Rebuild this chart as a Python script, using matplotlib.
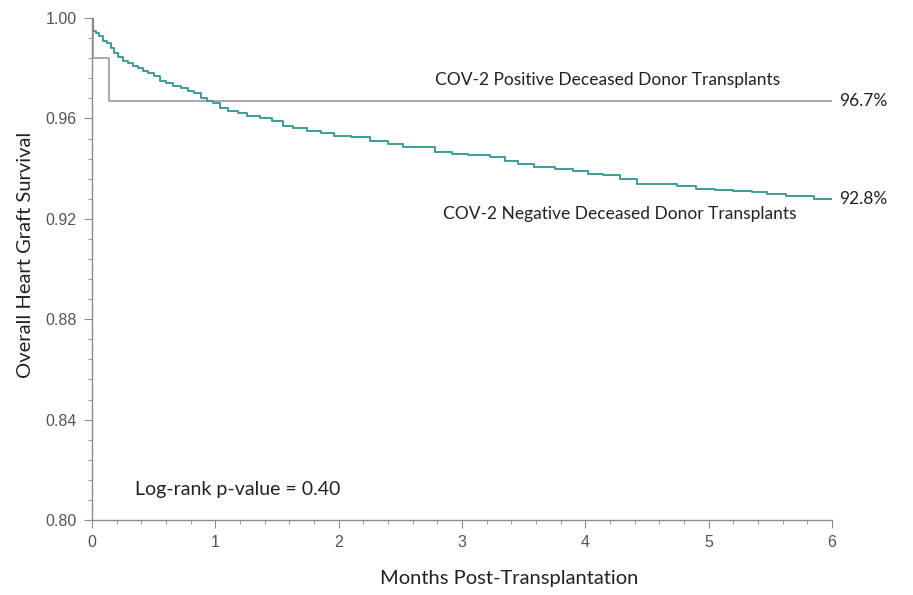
import matplotlib
matplotlib.use("Agg")
import matplotlib.pyplot as plt
from matplotlib.ticker import MultipleLocator, FormatStrFormatter

# COV-2 positive donors (Kaplan-Meier steps)
pos_times = [0.0, 0.005, 0.14, 6.0]
pos_surv = [1.0, 0.984, 0.967, 0.967]

# COV-2 negative donors (Kaplan-Meier steps)
neg_times = [0.0, 0.005, 0.03, 0.06, 0.09, 0.12, 0.15, 0.18, 0.21, 0.25,
             0.29, 0.33, 0.37, 0.41, 0.45, 0.50, 0.55, 0.60, 0.66, 0.72,
             0.78, 0.83, 0.88, 0.93, 0.98, 1.04, 1.10, 1.18, 1.26, 1.36,
             1.46, 1.55, 1.63, 1.74, 1.86, 1.96, 2.10, 2.25, 2.40, 2.52,
             2.78, 2.92, 3.05, 3.23, 3.35, 3.45, 3.58, 3.75, 3.90, 4.02,
             4.14, 4.28, 4.42, 4.74, 4.90, 5.05, 5.20, 5.35, 5.47, 5.63,
             5.85, 6.0]
neg_surv = [1.000, 0.995, 0.994, 0.993, 0.991, 0.990, 0.988, 0.986, 0.9845, 0.983,
            0.982, 0.981, 0.980, 0.979, 0.978, 0.977, 0.975, 0.974, 0.973, 0.972,
            0.971, 0.970, 0.968, 0.967, 0.966, 0.964, 0.963, 0.962, 0.961, 0.960,
            0.959, 0.957, 0.956, 0.955, 0.954, 0.953, 0.9525, 0.951, 0.950, 0.9486,
            0.9466, 0.946, 0.9455, 0.9446, 0.943, 0.942, 0.9406, 0.940, 0.939, 0.938,
            0.9375, 0.936, 0.934, 0.933, 0.932, 0.9315, 0.931, 0.9305, 0.930, 0.929,
            0.928, 0.928]

x_ticks = [0, 1, 2, 3, 4, 5, 6]
y_ticks = [0.80, 0.84, 0.88, 0.92, 0.96, 1.00]

label_font = ["Lato", "DejaVu Sans"]
tick_font = ["Liberation Sans Narrow", "Liberation Sans", "DejaVu Sans"]
axis_gray = "#8c8c8c"

fig = plt.figure(figsize=(9.13, 5.95), dpi=100)
ax = fig.add_axes([0.1008, 0.126, 0.8105, 0.8437])

ax.step(pos_times, pos_surv, where="post", color="#a3a3a3", lw=1.3)
ax.step(neg_times, neg_surv, where="post", color="#3c9c98", lw=1.4)

ax.set_xlim(0, 6)
ax.set_ylim(0.80, 1.00)
ax.set_xticks(x_ticks)
ax.set_yticks(y_ticks)
ax.yaxis.set_major_formatter(FormatStrFormatter("%.2f"))
ax.xaxis.set_minor_locator(MultipleLocator(0.2))
ax.yaxis.set_minor_locator(MultipleLocator(0.008))

for side in ["top", "right"]:
    ax.spines[side].set_visible(False)
for side in ["left", "bottom"]:
    ax.spines[side].set_color(axis_gray)
    ax.spines[side].set_linewidth(1.0)

ax.tick_params(which="major", length=6, color=axis_gray, labelcolor="#555555",
               labelsize=11.5, pad=5)
ax.tick_params(which="minor", length=3, color=axis_gray)
for lbl in ax.get_xticklabels() + ax.get_yticklabels():
    lbl.set_family(tick_font)

ax.set_xlabel("Months Post-Transplantation", fontsize=14.5, family=label_font,
              color="#222222")
ax.set_ylabel("Overall Heart Graft Survival", fontsize=14.5, family=label_font,
              color="#222222")
ax.xaxis.set_label_coords(0.5635, -0.1)
ax.yaxis.set_label_coords(-0.079, 0.528)

ax.text(4.18, 0.9755, "COV-2 Positive Deceased Donor Transplants", ha="center",
        va="center", fontsize=12.5, family=label_font, color="#222222")
ax.text(4.28, 0.9218, "COV-2 Negative Deceased Donor Transplants", ha="center",
        va="center", fontsize=12.5, family=label_font, color="#222222")
ax.text(6.06, 0.967, "96.7%", ha="left", va="center", fontsize=12.5,
        family=label_font, color="#222222", clip_on=False)
ax.text(6.06, 0.928, "92.8%", ha="left", va="center", fontsize=12.5,
        family=label_font, color="#222222", clip_on=False)
ax.text(0.35, 0.812, "Log-rank p-value = 0.40", ha="left", va="center",
        fontsize=14, family=label_font, color="#222222")

fig.savefig("out.png", dpi=100)
